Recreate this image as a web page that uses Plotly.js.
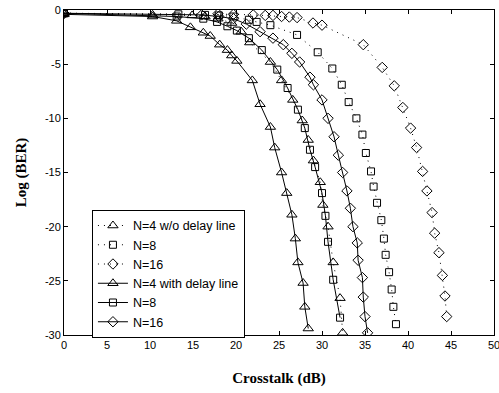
<!DOCTYPE html>
<html>
<head>
<meta charset="utf-8">
<script src="https://cdn.plot.ly/plotly-3.0.1.min.js"></script>
<style>
html,body{margin:0;padding:0;background:#fff;}
#chart{width:499px;height:393px;}
</style>
</head>
<body>
<div id="chart"></div>
<script>
// ---- Data ----
// N=4 without delay line (dotted, triangles)
var n4woX = [0, 10.3, 14.9, 16.4, 17.9, 19.5, 20.6, 21.6, 24.0, 25.3, 26.6, 27.7, 28.4, 29.0, 29.8, 30.1, 30.7, 31.3, 32.1, 32.4];
var n4woY = [-0.3, -0.45, -0.5, -0.6, -0.8, -1.2, -2.0, -3.0, -4.8, -6.5, -8.3, -10.2, -12.0, -13.9, -15.9, -18.0, -20.0, -23.3, -26.6, -29.8];
// N=8 without delay line (dotted, squares)
var n8woX = [0, 13.3, 16.4, 18.0, 19.7, 21.5, 22.4, 24.0, 27.1, 29.5, 31.2, 32.3, 33.1, 34.0, 34.7, 35.1, 35.7, 36.0, 36.4, 36.9, 37.2, 37.4, 37.8, 38.1, 38.3, 38.6];
var n8woY = [-0.3, -0.4, -0.45, -0.5, -0.6, -0.9, -1.1, -1.4, -2.3, -3.9, -5.4, -6.9, -8.5, -10.0, -11.5, -13.2, -14.9, -16.3, -17.8, -19.4, -21.1, -22.6, -24.2, -25.8, -27.4, -29.0];
// N=16 without delay line (dotted, diamonds)
var n16woX = [0, 17.9, 19.7, 22.0, 23.4, 24.3, 25.3, 26.2, 27.1, 28.95, 30.0, 34.8, 37.0, 38.4, 39.4, 40.3, 41.0, 41.7, 42.2, 42.8, 43.1, 43.6, 44.0, 44.3, 44.5];
var n16woY = [-0.3, -0.35, -0.4, -0.45, -0.5, -0.5, -0.6, -0.65, -0.7, -1.2, -1.4, -3.2, -5.3, -7.0, -9.0, -10.9, -12.7, -14.9, -16.7, -18.7, -20.6, -22.4, -24.5, -26.4, -28.3];
// N=4 with delay line (solid, triangles)
var n4wX = [0, 10.3, 13.1, 14.7, 16.2, 17.0, 18.1, 19.0, 19.5, 20.1, 21.9, 22.8, 24.0, 24.5, 25.3, 25.9, 26.5, 26.9, 27.2, 27.8, 28.0, 28.4];
var n4wY = [-0.4, -0.6, -1.0, -1.6, -2.1, -2.4, -3.2, -3.7, -4.2, -4.7, -6.5, -8.7, -10.8, -12.7, -15.0, -16.9, -18.9, -21.1, -23.3, -25.2, -27.4, -29.4];
// N=8 with delay line (solid, squares)
var n8wX = [0, 13.1, 16.2, 17.8, 19.0, 20.1, 21.5, 23.0, 24.8, 26.0, 27.2, 28.0, 28.6, 29.2, 30.0, 30.4, 30.7, 31.3, 32.1];
var n8wY = [-0.3, -0.6, -0.8, -1.1, -1.5, -1.9, -2.6, -3.7, -5.5, -7.2, -9.2, -10.9, -12.9, -14.5, -16.9, -19.0, -21.4, -24.9, -28.4];
// N=16 with delay line (solid, diamonds)
var n16wX = [0, 16.0, 18.0, 19.7, 21.2, 22.8, 24.3, 25.5, 26.5, 27.4, 28.6, 29.0, 30.0, 30.7, 31.4, 31.9, 32.4, 32.9, 33.3, 33.6, 34.1, 34.2, 34.7, 34.8, 35.0, 35.3];
var n16wY = [-0.3, -0.45, -0.6, -0.8, -1.3, -2.0, -2.6, -3.2, -4.0, -4.8, -6.2, -6.9, -8.3, -10.0, -11.7, -13.4, -15.0, -16.7, -18.3, -20.0, -21.5, -23.1, -24.7, -26.5, -28.3, -29.8];

var seriesNames = ['N=4 w/o delay line', 'N=8', 'N=16', 'N=4 with delay line', 'N=8', 'N=16'];
var xTickVals = [0, 5, 10, 15, 20, 25, 30, 35, 40, 45, 50];
var xTickText = ['0', '5', '10', '15', '20', '25', '30', '35', '40', '45', '50'];
var yTickVals = [0, -5, -10, -15, -20, -25, -30];
var yTickText = ['0', '-5', '-10', '-15', '-20', '-25', '-30'];

// ---- Build traces ----
function mk(x, y, name, symbol, dash, size) {
  return {
    x: x, y: y, name: name, type: 'scatter', mode: 'lines+markers',
    line: {color: '#000', width: 1, dash: dash},
    marker: {symbol: symbol, size: size, color: '#000', line: {color: '#000', width: 1}},
    cliponaxis: true
  };
}
var dotted = '1px,5px';
var traces = [
  mk(n4woX, n4woY, seriesNames[0], 'triangle-up-open', dotted, 9),
  mk(n8woX, n8woY, seriesNames[1], 'square-open', dotted, 7),
  mk(n16woX, n16woY, seriesNames[2], 'diamond-open', dotted, 8),
  mk(n4wX, n4wY, seriesNames[3], 'triangle-up-open', 'solid', 9),
  mk(n8wX, n8wY, seriesNames[4], 'square-open', 'solid', 7),
  mk(n16wX, n16wY, seriesNames[5], 'diamond-open', 'solid', 8)
];

var tickFont = {family: 'Liberation Sans, Arial, sans-serif', size: 11, color: '#000'};
var titleFont = {family: 'Liberation Serif, Times New Roman, serif', size: 15, color: '#000', weight: 'bold'};

var layout = {
  width: 499, height: 393,
  margin: {l: 64, r: 5, t: 10, b: 58},
  paper_bgcolor: '#fff', plot_bgcolor: '#fff',
  showlegend: true,
  legend: {
    x: 0.065, y: 0.385, xanchor: 'left', yanchor: 'top',
    bgcolor: '#fff', bordercolor: '#000', borderwidth: 1,
    font: {family: 'Liberation Sans, Arial, sans-serif', size: 12.5, color: '#000'},
    tracegroupgap: 0, itemwidth: 30
  },
  xaxis: {
    range: [0, 50], tickvals: xTickVals, ticktext: xTickText,
    ticks: 'inside', ticklen: 4, tickcolor: '#000',
    showline: true, linecolor: '#000', linewidth: 1, mirror: 'ticks',
    showgrid: false, zeroline: false, tickfont: tickFont,
    ticklabeloverflow: 'allow',
    title: {text: 'Crosstalk (dB)', font: titleFont, standoff: 22}
  },
  yaxis: {
    range: [-30, 0], tickvals: yTickVals, ticktext: yTickText,
    ticks: 'inside', ticklen: 4, tickcolor: '#000',
    showline: true, linecolor: '#000', linewidth: 1, mirror: 'ticks',
    showgrid: false, zeroline: false, tickfont: tickFont,
    ticklabeloverflow: 'allow',
    title: {text: 'Log (BER)', font: titleFont, standoff: 14}
  }
};

Plotly.newPlot('chart', traces, layout, {displayModeBar: false, staticPlot: true});
</script>
</body>
</html>
